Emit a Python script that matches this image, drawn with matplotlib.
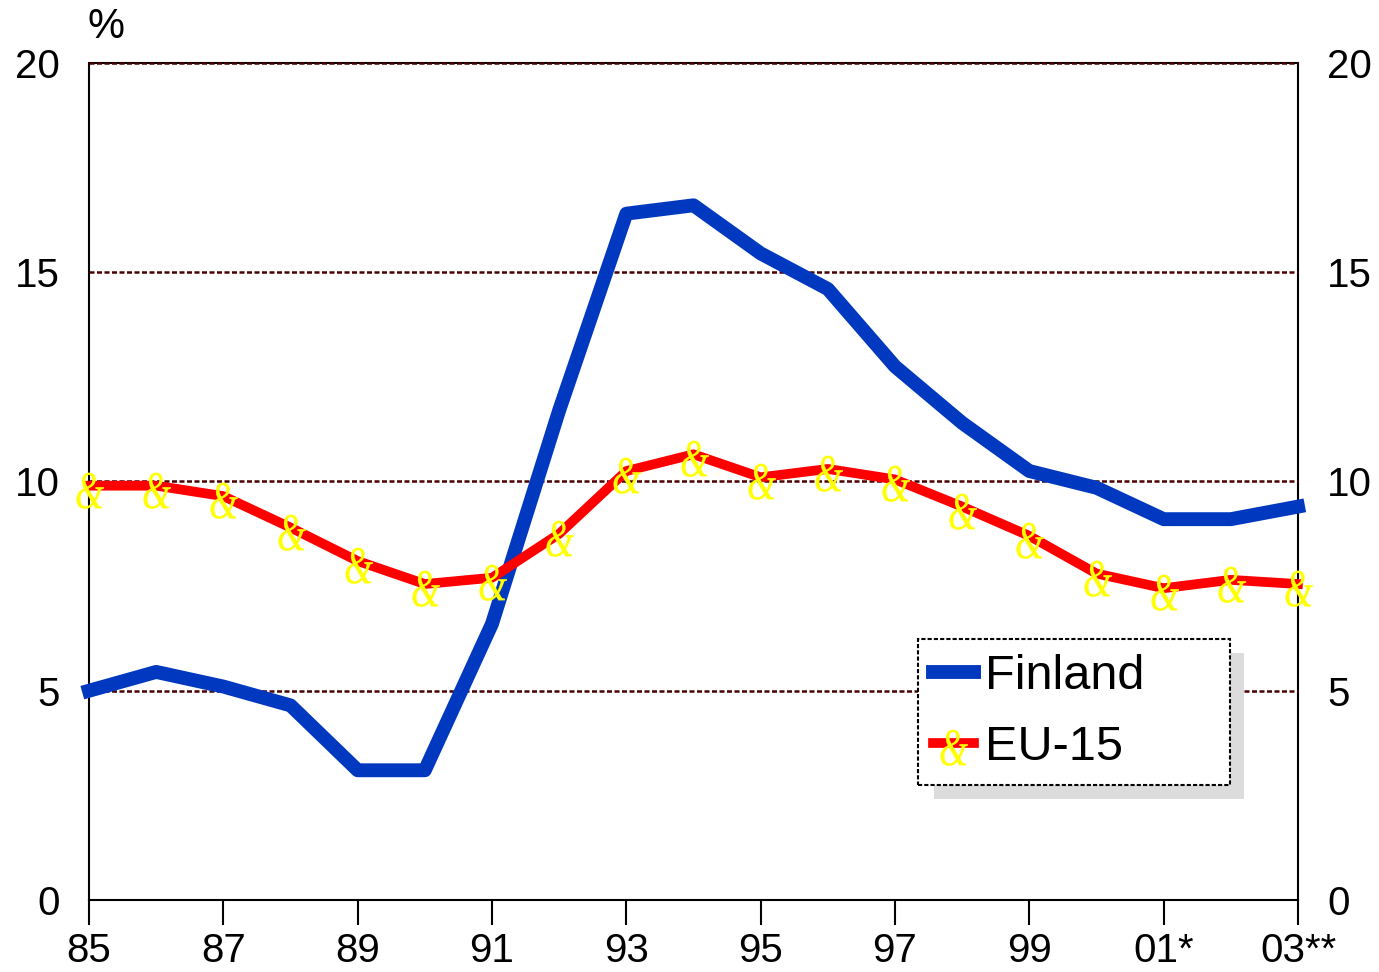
import matplotlib
matplotlib.use("Agg")
import matplotlib.pyplot as plt
from matplotlib.patches import Rectangle
from matplotlib.textpath import TextPath
from matplotlib.font_manager import FontProperties
from matplotlib.path import Path

plt.rcParams['font.family'] = ['Liberation Sans', 'DejaVu Sans']

years = list(range(1985, 2004))
finland = [5.0, 5.45, 5.1, 4.65, 3.1, 3.1, 6.6, 11.7, 16.4, 16.6, 15.45, 14.6, 12.75, 11.4, 10.25, 9.85, 9.1, 9.1, 9.4]
eu15 = [9.9, 9.9, 9.65, 8.9, 8.1, 7.55, 7.7, 8.75, 10.25, 10.65, 10.1, 10.3, 10.05, 9.4, 8.7, 7.8, 7.45, 7.65, 7.55]
xtick_years = list(range(1985, 2004, 2))
xtick_labels = ['85', '87', '89', '91', '93', '95', '97', '99', '01*', '03**']
ytick_vals = [0, 5, 10, 15, 20]

# ampersand marker path, centred slightly below the point like the reference
tp = TextPath((0, 0), '&', size=10, prop=FontProperties(family='Liberation Serif', style='italic'))
v = tp.vertices.copy()
cx = (v[:, 0].min() + v[:, 0].max()) / 2
cy = (v[:, 1].min() + v[:, 1].max()) / 2
v[:, 0] = (v[:, 0] - cx) * 0.7
v[:, 1] -= cy + 0.8
amp = Path(v, tp.codes)

fig = plt.figure(figsize=(13.79, 9.72), dpi=100)
ax = fig.add_axes([89/1379, 1-900/972, (1298-89)/1379, (900-63)/972])

for s in ax.spines.values():
    s.set_linestyle((0, (2, 1)))
    s.set_linewidth(1.5)
    s.set_color('black')
    s.set_zorder(0.5)

for y in ytick_vals[1:]:
    ax.axhline(y, color='#4a0000', lw=1.8, ls=(0, (2, 1)), zorder=1)

ax.plot(years, finland, color='#0039c0', lw=10, zorder=3, label='Finland')
ax.plot(years, eu15, color='#ff0000', lw=7, zorder=4, marker=amp, markersize=32,
        markerfacecolor='#ffff00', markeredgecolor='#ffff00', markeredgewidth=0.2, label='EU-15')

ax.set_xlim(1985, 2003)
ax.set_ylim(0, 20)
ax.set_xticks(xtick_years)
ax.set_xticklabels(xtick_labels)
ax.set_yticks(ytick_vals)
ax.tick_params(axis='x', direction='out', length=18, width=1.5, labelsize=29, pad=5)
ax.tick_params(axis='y', length=0, labelsize=29, pad=21, right=True, labelright=True)
for t in ax.xaxis.get_ticklines():
    t.set_linestyle((0, (2, 1)))
for ln in ax.lines:
    ln.set_clip_on(False)

fig.text(106/1379, 1-27/972, '%', fontsize=30, ha='center', va='center')

# legend shadow
shadow = Rectangle((934/1379, 1-799/972), (1244-934)/1379, (799-653)/972,
                   transform=fig.transFigure, facecolor='#dcdcdc', edgecolor='none',
                   zorder=9, clip_on=False)
ax.add_patch(shadow)
leg = ax.legend(loc='upper left',
                bbox_to_anchor=(918/1379, 1-783/972, (1230-918)/1379, (783-639)/972),
                bbox_transform=fig.transFigure, mode='expand',
                fontsize=35, frameon=True, fancybox=False, handlelength=0.85, handletextpad=0.22,
                borderpad=0.3, labelspacing=0.55, borderaxespad=0)
fr = leg.get_frame()
fr.set_edgecolor('black')
fr.set_linestyle((0, (2, 1)))
fr.set_linewidth(1.5)
fr.set_alpha(1)
leg.set_zorder(10)

fig.savefig('out.png', dpi=100)
